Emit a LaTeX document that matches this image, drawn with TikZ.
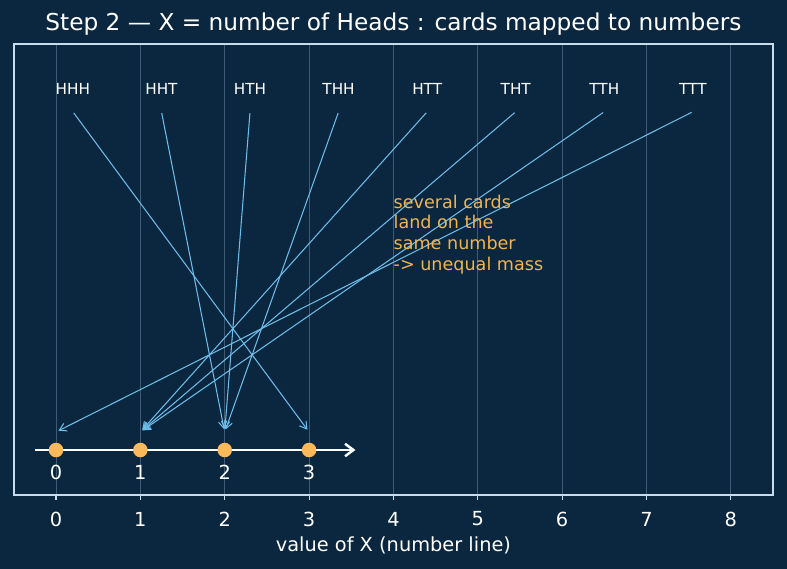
\documentclass[tikz,border=0pt]{standalone}
\usepackage{fontspec}
\setmainfont{DejaVu Sans}
\usetikzlibrary{arrows.meta, positioning, calc}
\definecolor{bgnavy}{RGB}{11, 39, 64}
\definecolor{mapblue}{RGB}{110, 190, 235}
\definecolor{dotorange}{RGB}{250, 185, 90}
\definecolor{noteorange}{RGB}{240, 180, 80}
\definecolor{gridgray}{RGB}{62, 90, 116}
\definecolor{spinecol}{RGB}{200, 220, 236}

\begin{document}
\begin{tikzpicture}[x=2.1425cm, y=2.2911cm,
  card/.style={text=white, font=\fontsize{11}{13}\selectfont, inner sep=1pt},
  mapto/.style={mapblue, line width=0.75pt, -{Straight Barb[length=5pt, width=6pt]}, shorten >=2pt, shorten <=1pt},
  valdot/.style={circle, fill=dotorange, inner sep=0pt, minimum size=10.5pt},
  vallabel/.style={text=white, font=\fontsize{14}{16}\selectfont, inner sep=1pt}
]
  \fill[bgnavy] (-0.664,-1.319) rectangle (8.666,4.989);
  \useasboundingbox (-0.664,-1.319) rectangle (8.666,4.989);

  % grid, ticks and tick labels
  \foreach \k in {0,...,8} {
    \draw[gridgray, line width=0.6pt] (\k,-0.5) -- (\k,4.5);
    \draw[spinecol, line width=0.8pt] (\k,-0.5) -- ++(0,-3.5pt);
    \node[vallabel] (tick\k) at (\k,-0.765) {\k};
  }
  \draw[spinecol, line width=1.1pt] (-0.5,-0.5) rectangle (8.5,4.5);

  \node[text=white, font=\fontsize{16.8}{19}\selectfont] (title) at (4,4.723)
    {Step 2 — X = number of Heads : cards mapped to numbers};
  \node[text=white, font=\fontsize{14}{16}\selectfont] (xlabel) at (4,-1.053)
    {value of X (number line)};

  % number line
  \coordinate (lineL) at (-0.25,0);
  \coordinate (lineR) at (3.55,0);
  \draw[white, line width=1.8pt, -{Straight Barb[length=6pt, width=9pt]}] (lineL) -- (lineR);
  \node[valdot] (x0) at (0,0) {};
  \node[valdot] (x1) at (1,0) {};
  \node[valdot] (x2) at (2,0) {};
  \node[valdot] (x3) at (3,0) {};
  \node[vallabel] (n0) at (0,-0.244) {0};
  \node[vallabel] (n1) at (1,-0.244) {1};
  \node[vallabel] (n2) at (2,-0.244) {2};
  \node[vallabel] (n3) at (3,-0.244) {3};
  \coordinate (in0) at (0,0.2);
  \coordinate (in1) at (1,0.2);
  \coordinate (in2) at (2,0.2);
  \coordinate (in3) at (3,0.2);

  % the eight cards
  \node[card] (hhh) at (0.2,4) {HHH};
  \node[card] (hht) at (1.25,4) {HHT};
  \node[card] (hth) at (2.3,4) {HTH};
  \node[card] (thh) at (3.35,4) {THH};
  \node[card] (htt) at (4.4,4) {HTT};
  \node[card] (tht) at (5.45,4) {THT};
  \node[card] (tth) at (6.5,4) {TTH};
  \node[card] (ttt) at (7.55,4) {TTT};
  \coordinate (hhh-out) at (0.2,3.75);
  \coordinate (hht-out) at (1.25,3.75);
  \coordinate (hth-out) at (2.3,3.75);
  \coordinate (thh-out) at (3.35,3.75);
  \coordinate (htt-out) at (4.4,3.75);
  \coordinate (tht-out) at (5.45,3.75);
  \coordinate (tth-out) at (6.5,3.75);
  \coordinate (ttt-out) at (7.55,3.75);

  \draw[mapto] (hhh-out) -- (in3);
  \draw[mapto] (hht-out) -- (in2);
  \draw[mapto] (hth-out) -- (in2);
  \draw[mapto] (thh-out) -- (in2);
  \draw[mapto] (htt-out) -- (in1);
  \draw[mapto] (tht-out) -- (in1);
  \draw[mapto] (tth-out) -- (in1);
  \draw[mapto] (ttt-out) -- (in0);

  \node[anchor=north west, align=left, text=noteorange, inner sep=0pt,
    font=\fontsize{12.7}{14.9}\selectfont] (note) at (4,2.83)
    {several cards\\land on the\\same number\\-> unequal mass};
\end{tikzpicture}
\end{document}
